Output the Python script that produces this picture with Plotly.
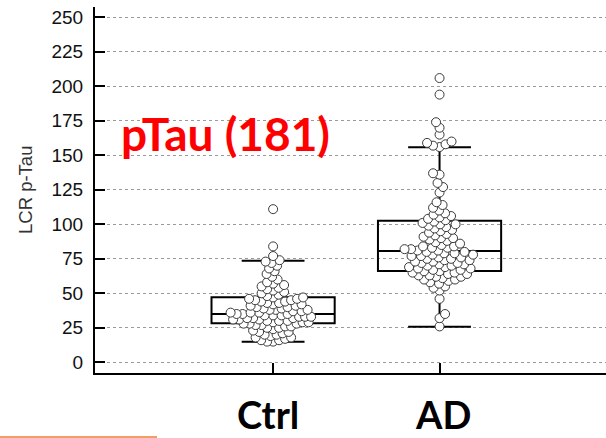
import plotly.graph_objects as go

# ---------------- data ----------------
categories = ["Ctrl", "AD"]
category_pos = [0, 1]

ctrl_values = [15, 15, 16, 16, 17, 18, 18, 19, 20, 20, 21, 22, 22, 23, 24, 25, 25, 26, 26, 27,
               27, 28, 28, 28, 29, 29, 29, 30, 30, 30, 31, 31, 31, 32, 32, 32, 33, 33, 33, 34,
               34, 34, 35, 35, 35, 36, 36, 36, 37, 37, 38, 38, 38, 39, 39, 40, 40, 41, 41, 42,
               42, 43, 43, 44, 44, 45, 45, 46, 46, 47, 47, 48, 49, 50, 51, 52, 53, 54, 55, 56,
               57, 58, 60, 62, 64, 66, 68, 70, 72, 73, 74, 77, 84, 111]

ad_values = [26, 32, 35, 46, 52, 54, 55, 57, 58, 59, 60, 60, 61, 62, 62, 63, 63, 64, 64, 65,
             65, 66, 66, 67, 67, 68, 68, 69, 69, 70, 70, 71, 71, 72, 72, 73, 73, 74, 74, 75,
             75, 76, 76, 77, 77, 78, 78, 79, 79, 80, 80, 81, 81, 82, 82, 83, 83, 84, 84, 85,
             86, 87, 88, 89, 90, 90, 91, 92, 93, 94, 95, 96, 97, 98, 99, 100, 100, 101, 102, 103,
             104, 105, 106, 107, 108, 110, 112, 114, 116, 123, 127, 130, 136, 137, 156, 157, 158,
             159, 160, 165, 170, 174, 194, 206]

box_q1 = [28.3, 66.2]
box_median = [35.0, 80.6]
box_q3 = [47.1, 102.6]
box_lower = [14.9, 25.8]
box_upper = [73.6, 155.8]

y_ticks = [0, 25, 50, 75, 100, 125, 150, 175, 200, 225, 250]

# ---------------- geometry ----------------
W, H = 606, 438
ML, MR, MT, MB = 95, 0, 7, 65
plot_w = W - ML - MR
plot_h = H - MT - MB
x_range = [-1.07, 2.0]
y_range = [-7.75, 257.5]
ppx = plot_w / (x_range[1] - x_range[0])
ppy = plot_h / (y_range[1] - y_range[0])


def swarm(vals, d=6.5, step=0.5):
    order = sorted(range(len(vals)), key=lambda i: vals[i])
    placed = []
    offs = [0.0] * len(vals)
    flip = 1
    for i in order:
        y = vals[i] * ppy
        found = None
        k = 0
        while found is None:
            cands = [0.0] if k == 0 else [flip * k * step, -flip * k * step]
            for c in cands:
                ok = True
                for (px, py) in placed:
                    if abs(py - y) < d and (c - px) ** 2 + (y - py) ** 2 < d * d:
                        ok = False
                        break
                if ok:
                    found = c
                    break
            k += 1
        flip = -flip
        placed.append((found, y))
        offs[i] = found / ppx
    return offs


fig = go.Figure()

for pos, vals, dd in zip(category_pos, [ctrl_values, ad_values], [6.0, 6.5]):
    offs = swarm(vals, d=dd)
    fig.add_trace(go.Scatter(
        x=[pos + o for o in offs], y=vals, mode="markers",
        marker=dict(size=9, color="white", line=dict(color="#3a3a3a", width=1)),
        hoverinfo="skip", showlegend=False))

fig.add_trace(go.Box(
    x=category_pos, q1=box_q1, median=box_median, q3=box_q3,
    lowerfence=box_lower, upperfence=box_upper,
    width=0.74, whiskerwidth=0.51, boxpoints=False,
    line=dict(color="black", width=2), fillcolor="rgba(0,0,0,0)",
    hoverinfo="skip", showlegend=False))


def py2paper(y):
    return (H - MB - y) / plot_h


def px2paper(x):
    return (x - ML) / plot_w


annotations = [
    dict(text="pTau (181)", x=px2paper(225), y=py2paper(133), xref="paper", yref="paper",
         showarrow=False, xanchor="center", yanchor="middle",
         font=dict(family="Lato", size=46, color="#FF0000", weight="bold")),
    dict(text="LCR p-Tau", x=px2paper(25), y=py2paper(190), xref="paper", yref="paper",
         showarrow=False, textangle=-90, xanchor="center", yanchor="middle",
         font=dict(family="Liberation Sans, Arial", size=18.5, color="#333333")),
]
for cat, xc in zip(categories, [268, 443]):
    annotations.append(dict(
        text=cat, x=px2paper(xc), y=py2paper(414), xref="paper", yref="paper",
        showarrow=False, xanchor="center", yanchor="middle",
        font=dict(family="Lato", size=38, color="black", weight="bold")))

fig.update_layout(
    width=W, height=H,
    margin=dict(l=ML, r=MR, t=MT, b=MB),
    paper_bgcolor="white", plot_bgcolor="white",
    showlegend=False,
    annotations=annotations,
    shapes=[dict(type="line", xref="paper", yref="paper",
                 x0=px2paper(0), x1=px2paper(157), y0=py2paper(437), y1=py2paper(437),
                 line=dict(color="#ED7D31", width=1.5))],
    xaxis=dict(range=x_range, showgrid=False, zeroline=False,
               showline=True, linecolor="black", linewidth=2,
               tickvals=category_pos, ticks="inside", ticklen=10, tickwidth=2,
               tickcolor="black", showticklabels=False, fixedrange=True),
    yaxis=dict(range=y_range, tickvals=y_ticks, showgrid=True, gridcolor="#9a9a9a",
               griddash="dot", gridwidth=1, zeroline=False,
               showline=True, linecolor="black", linewidth=2,
               ticks="inside", ticklen=10, tickwidth=2, tickcolor="black",
               ticklabelstandoff=6,
               tickfont=dict(family="Liberation Sans, Arial", size=19, color="#111111"),
               fixedrange=True),
)

fig.write_html("out.html", config={"displayModeBar": False},
               post_script="document.body.style.margin='0';document.body.style.overflow='hidden';")
